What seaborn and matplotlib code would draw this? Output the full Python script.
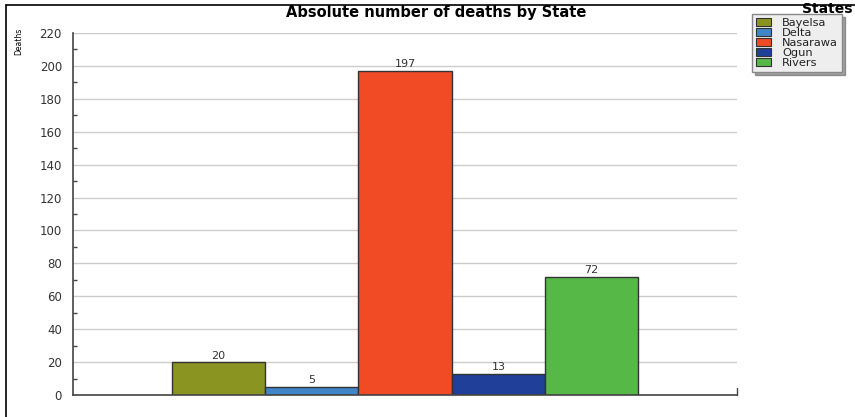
import pandas as pd
import seaborn as sns
import matplotlib.pyplot as plt
from matplotlib.lines import Line2D
from matplotlib.patches import Patch
from matplotlib.ticker import MultipleLocator

states = ["Bayelsa", "Delta", "Nasarawa", "Ogun", "Rivers"]
deaths = [20, 5, 197, 13, 72]
colors = ["#8a9420", "#3f86c8", "#f04b24", "#1f3f99", "#55b847"]

W, H = 855, 417


def main():
    sns.set_style("white")
    plt.rcParams["font.family"] = ["DejaVu Sans"]

    df = pd.DataFrame({"group": [""] * len(states), "state": states, "deaths": deaths})
    palette = dict(zip(states, colors))

    fig = plt.figure(figsize=(W / 100, H / 100), dpi=100)
    ax = fig.add_axes([73 / W, 1 - 395 / H, (737 - 73) / W, (395 - 33) / H])

    sns.barplot(
        data=df, x="group", y="deaths", hue="state", palette=palette,
        width=0.703, edgecolor="#333333", linewidth=1, saturation=1,
        legend=False, ax=ax,
    )
    for container in ax.containers:
        ax.bar_label(container, fontsize=8, color="#333333", padding=1)

    ax.set_xlim(-0.5, 0.5)
    ax.set_ylim(0, 220)
    ax.yaxis.set_major_locator(MultipleLocator(20))
    ax.yaxis.set_minor_locator(MultipleLocator(10))
    ax.tick_params(axis="y", which="major", direction="in", length=4, width=1,
                   color="#444444", labelsize=8.5, labelcolor="#333333", pad=8)
    ax.tick_params(axis="y", which="minor", direction="in", length=3, width=1,
                   color="#444444", left=True)
    ax.tick_params(axis="x", bottom=False, labelbottom=False)
    ax.set_xlabel("")
    ax.set_ylabel("")
    ax.grid(axis="y", color="#cccccc", linewidth=1)
    ax.set_axisbelow(True)
    for side in ["top", "right"]:
        ax.spines[side].set_visible(False)
    for side in ["left", "bottom"]:
        ax.spines[side].set_color("#444444")
        ax.spines[side].set_linewidth(1.2)
    # small end tick on the right of the x axis
    ax.plot([1, 1], [0, 0.02], transform=ax.transAxes, color="#444444",
            linewidth=1, clip_on=False)

    fig.text(436 / W, 1 - 13 / H, "Absolute number of deaths by State",
             ha="center", va="center", fontsize=10.5, fontweight="bold",
             color="black")
    fig.text(19 / W, 1 - 41 / H, "Deaths", rotation=90, ha="center",
             va="center", fontsize=5.5, color="black")

    # legend
    handles = [Patch(facecolor=c, edgecolor="#333333", linewidth=0.8) for c in colors]
    fig.legend(
        handles, states, loc="upper left",
        bbox_to_anchor=(752 / W, 1 - 14 / H), bbox_transform=fig.transFigure,
        frameon=True, shadow=True, fancybox=False, facecolor="#eeeeee",
        edgecolor="#888888", fontsize=8.2, handlelength=1.3, handleheight=0.7,
        labelspacing=0.0, borderpad=0.35, handletextpad=1.0, borderaxespad=0,
        labelcolor="#222222",
    )
    fig.text(852 / W, 1 - 9 / H, "States", ha="right", va="center",
             fontsize=10, fontweight="bold", color="black")

    # outer frame lines
    fig.add_artist(Line2D([6 / W, 6 / W], [0, 1 - 5 / H], color="black", linewidth=1.2))
    fig.add_artist(Line2D([6 / W, 1], [1 - 5 / H, 1 - 5 / H], color="black", linewidth=1.2))

    fig.savefig("out.png", dpi=100)


if __name__ == "__main__":
    main()
